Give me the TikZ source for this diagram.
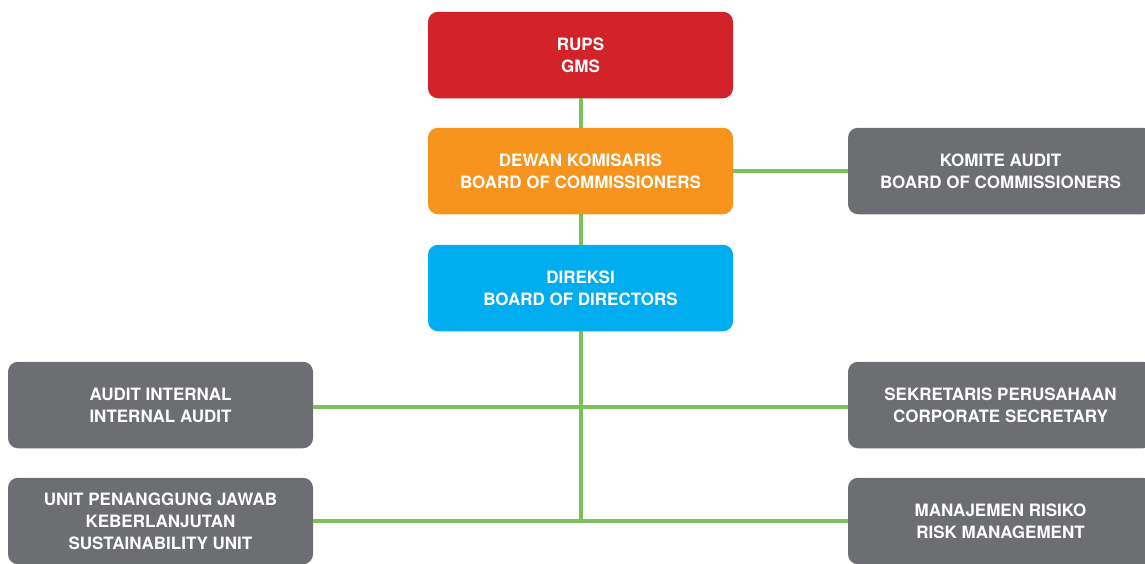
\documentclass[tikz,border=0pt]{standalone}
\usepackage{fontspec}
\setmainfont{TeX Gyre Heros}
\definecolor{cred}{HTML}{D2232A}
\definecolor{corange}{HTML}{F7941E}
\definecolor{ccyan}{HTML}{00AEEF}
\definecolor{cgray}{HTML}{6D6E71}
\definecolor{cgreen}{HTML}{7DC05A}
\tikzset{
  orgbox/.style={rounded corners=10pt, minimum width=305pt, minimum height=86.5pt,
    inner sep=0pt, align=center, text=white,
    font=\fontsize{17}{22}\selectfont\bfseries},
  link/.style={draw=cgreen, line width=4pt}
}
\begin{document}
\begin{tikzpicture}[x=1pt,y=-1pt]
\useasboundingbox (0,0) rectangle (1145,563);
% nodes
\node[orgbox, fill=cred] (rups) at (580.5,55) {RUPS\\GMS};
\node[orgbox, fill=corange] (dk) at (580.5,171) {DEWAN KOMISARIS\\BOARD OF COMMISSIONERS};
\node[orgbox, fill=cgray] (ka) at (1000.5,171) {KOMITE AUDIT\\BOARD OF COMMISSIONERS};
\node[orgbox, fill=ccyan] (dir) at (580.5,288) {DIREKSI\\BOARD OF DIRECTORS};
\node[orgbox, fill=cgray] (ai) at (160.5,405) {AUDIT INTERNAL\\INTERNAL AUDIT};
\node[orgbox, fill=cgray] (sk) at (1000.5,405) {SEKRETARIS PERUSAHAAN\\CORPORATE SECRETARY};
\node[orgbox, fill=cgray] (unit) at (160.5,521) {UNIT PENANGGUNG JAWAB\\KEBERLANJUTAN\\SUSTAINABILITY UNIT};
\node[orgbox, fill=cgray] (mr) at (1000.5,521) {MANAJEMEN RISIKO\\RISK MANAGEMENT};
\coordinate (bot) at (580.5,521);
% connectors
\draw[link] (rups.south) -- (dk.north);
\draw[link] (dk.east) -- (ka.west);
\draw[link] (dk.south) -- (dir.north);
\draw[link] (dir.south) -- (bot);
\draw[link] ([yshift=-1.5pt]ai.east) -- ([yshift=-1.5pt]sk.west);
\draw[link] (unit.east) -- (mr.west);
\end{tikzpicture}
\end{document}
